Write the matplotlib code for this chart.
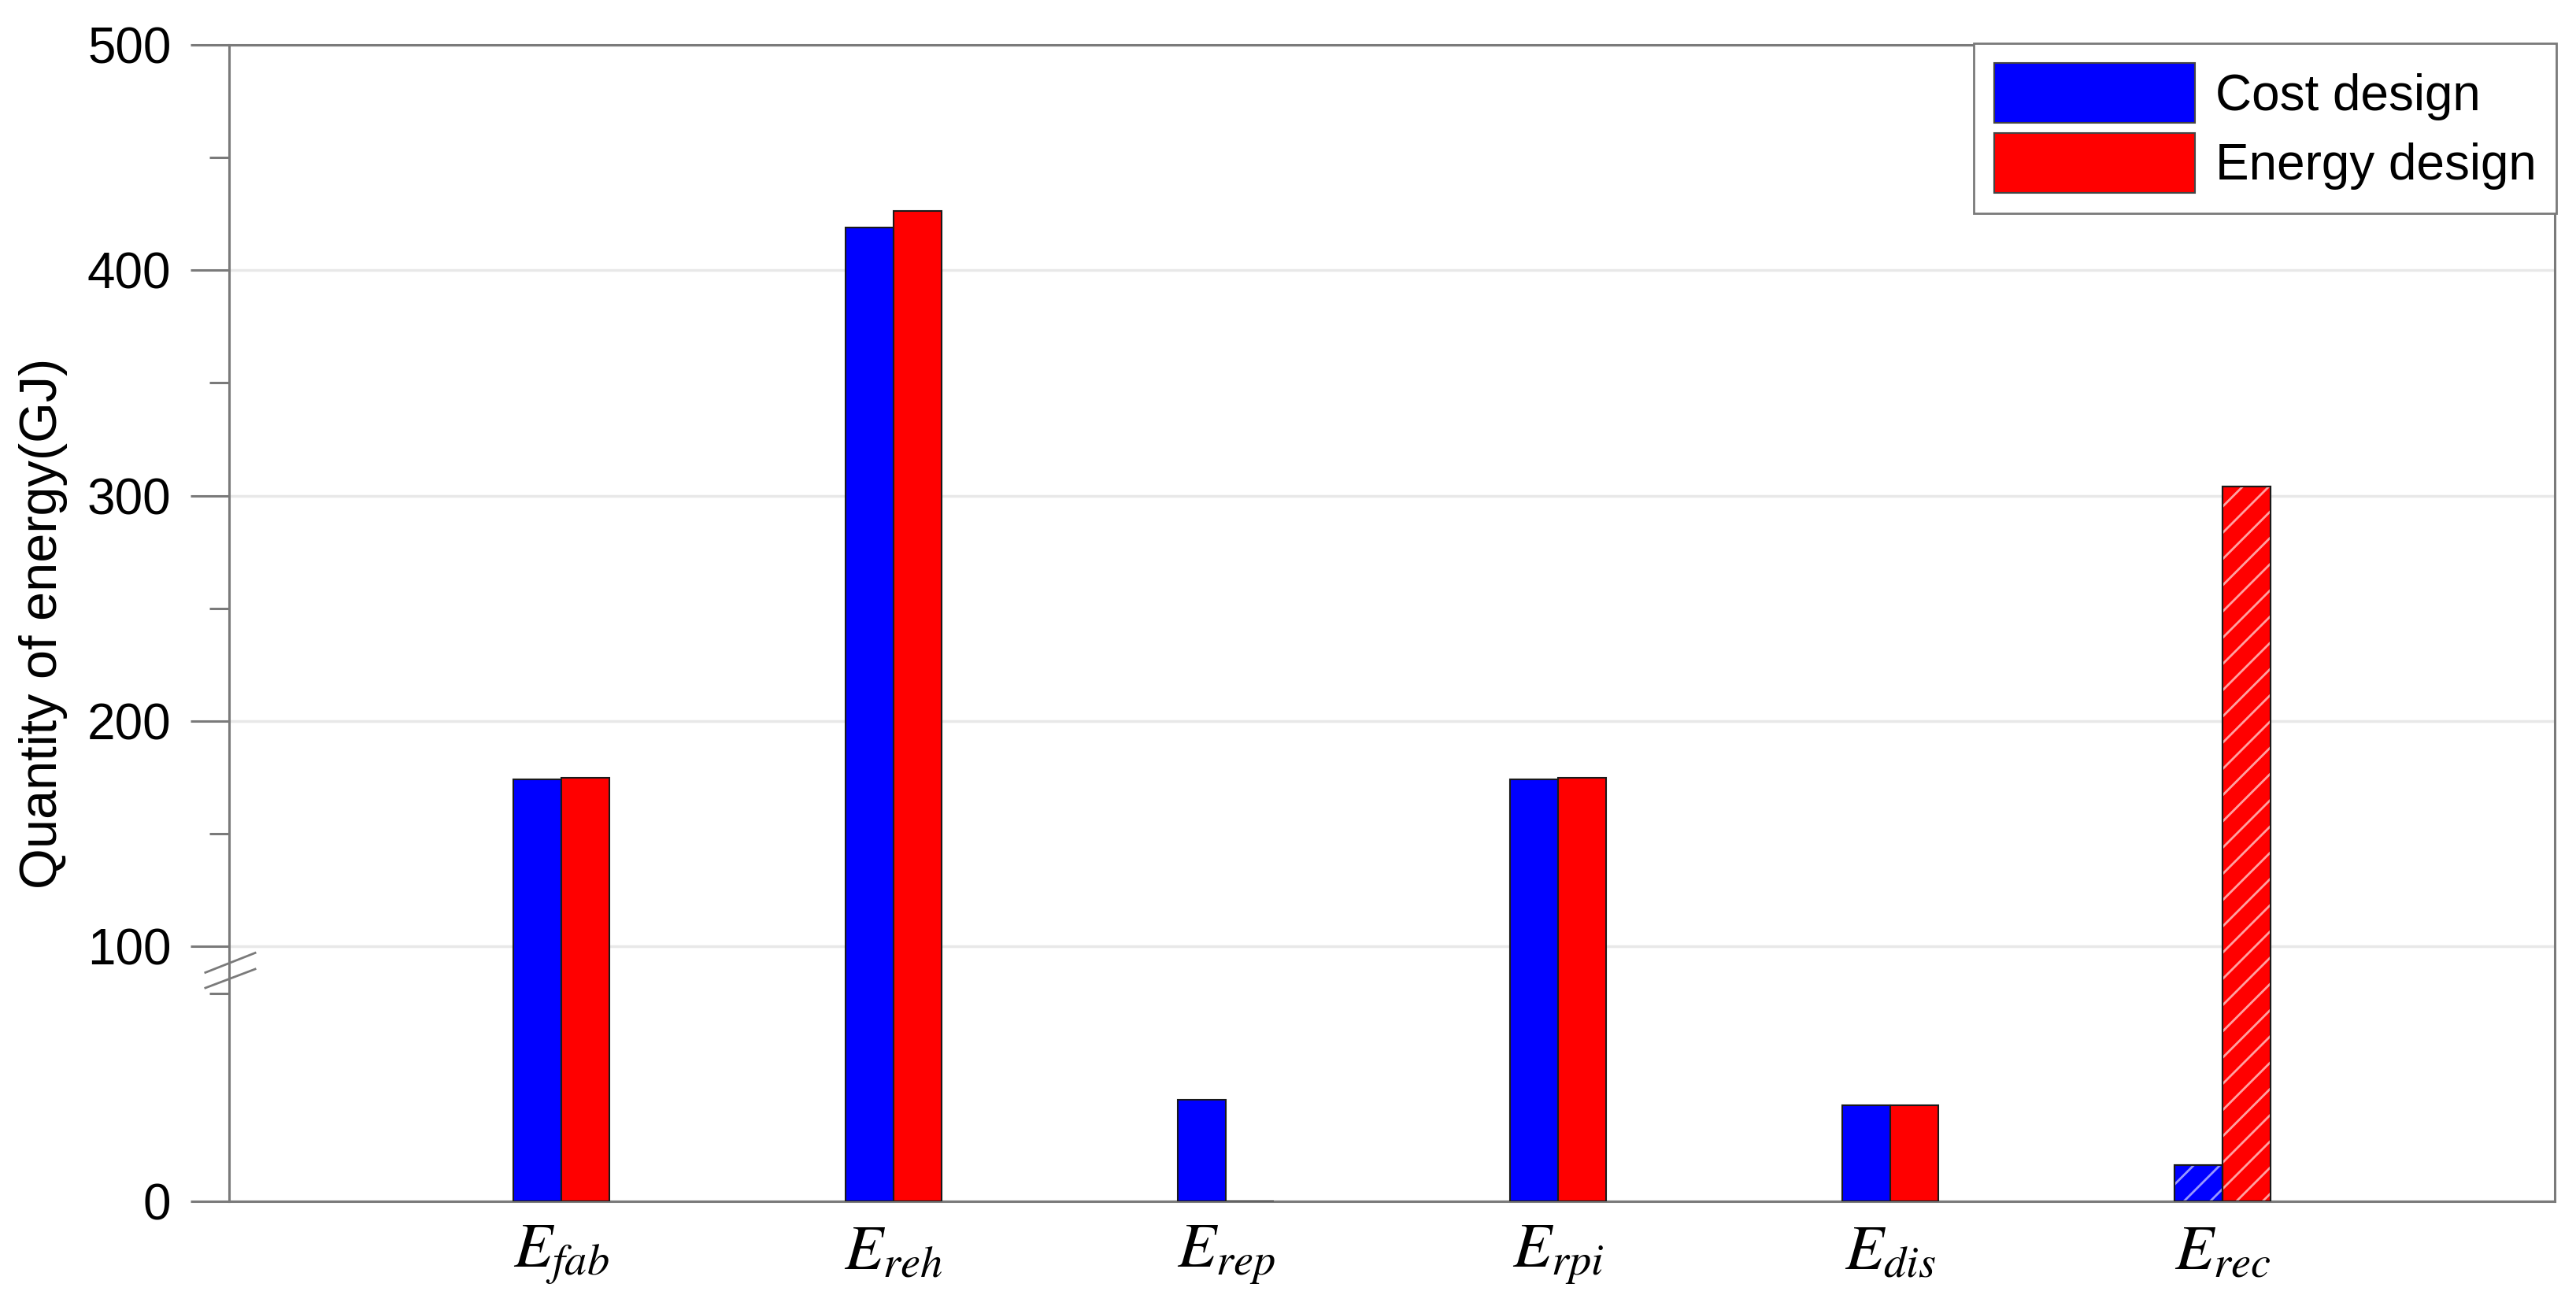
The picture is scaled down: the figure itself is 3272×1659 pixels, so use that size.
import numpy as np
import matplotlib
matplotlib.use("Agg")
import matplotlib.pyplot as plt
from matplotlib.lines import Line2D

plt.rcParams["font.family"] = ["Liberation Sans", "DejaVu Sans"]
plt.rcParams["mathtext.fontset"] = "stix"
plt.rcParams["hatch.linewidth"] = 2.0

# data
categories = [r"$E_{fab}$", r"$E_{reh}$", r"$E_{rep}$", r"$E_{rpi}$", r"$E_{dis}$", r"$E_{rec}$"]
cost_design = [174.1, 418.8, 24.5, 174.1, 23.2, 8.7]
energy_design = [174.8, 426.2, 0.0, 174.8, 23.2, 303.9]
hatched = [False, False, False, False, False, True]
ytick_vals = [0, 100, 200, 300, 400, 500]
yminor_vals = [50, 150, 250, 350, 450]

# broken axis: 0-50 in the lower part, 100-500 in the upper part, 50-100 squeezed
brk_data = [0, 50, 100, 500]
brk_pos = [0, 264, 324, 1469]


def fwd(v):
    return np.interp(v, brk_data, brk_pos)


def inv(v):
    return np.interp(v, brk_pos, brk_data)


fig = plt.figure(figsize=(32.73, 16.59), dpi=100)
ax = fig.add_axes([291 / 3273, 1 - 1526 / 1659, 2954 / 3273, 1469 / 1659])
ax.set_yscale("function", functions=(fwd, inv))

x = np.arange(1, len(categories) + 1)
w = 0.145
blue = "#0000ff"
red = "#ff0000"
edge = "#1a1a1a"

ax.bar(x - w / 2, cost_design, w, color=blue, edgecolor=edge, linewidth=1.5, zorder=3, label="Cost design")
ax.bar(x + w / 2, energy_design, w, color=red, edgecolor=edge, linewidth=1.5, zorder=3, label="Energy design")

# hatched overlay for recovery bars
for i, h in enumerate(hatched):
    if h:
        ax.bar(x[i] - w / 2, cost_design[i], w, color="none", edgecolor=(0.75, 0.75, 1, 0.8),
               hatch="/", linewidth=0, zorder=4)
        ax.bar(x[i] + w / 2, energy_design[i], w, color="none", edgecolor=(1, 0.75, 0.75, 0.85),
               hatch="/", linewidth=0, zorder=4)
        ax.bar(x[i] - w / 2, cost_design[i], w, color="none", edgecolor=edge, linewidth=1.5, zorder=5)
        ax.bar(x[i] + w / 2, energy_design[i], w, color="none", edgecolor=edge, linewidth=1.5, zorder=5)

ax.set_xlim(0, 7)
ax.set_ylim(0, 500)
ax.set_yticks(ytick_vals)
ax.set_yticklabels([str(v) for v in ytick_vals])
ax.set_yticks(yminor_vals, minor=True)
ax.set_xticks(x)
ax.set_xticklabels(categories)

spine_c = "#7a7a7a"
for s in ax.spines.values():
    s.set_color(spine_c)
    s.set_linewidth(2.2)

ax.tick_params(axis="y", which="major", direction="out", length=35, width=2.2, color=spine_c,
               labelsize=46, pad=18)
ax.tick_params(axis="y", which="minor", direction="out", length=18, width=2.2, color=spine_c)
ax.tick_params(axis="x", length=0, labelsize=58, pad=20)

ax.yaxis.grid(True, which="major", color="#e8e8e8", linewidth=2.5, zorder=0)
ax.set_axisbelow(True)

ax.set_ylabel("Quantity of energy(GJ)", fontsize=48, labelpad=18)

# break marks on the left spine
for y0, y1 in [(0.1978, 0.2148), (0.1845, 0.2008)]:
    ax.add_line(Line2D([-0.0102, 0.0112], [y0, y1], transform=ax.transAxes, color=spine_c,
                       linewidth=2.0, clip_on=False, zorder=6))

leg = ax.legend(loc="upper right", bbox_to_anchor=(1.0007, 1.0014), borderaxespad=0, fontsize=46,
                handlelength=4.0, handleheight=1.45, handletextpad=0.4, borderpad=0.4,
                labelspacing=0.2, fancybox=False, framealpha=1)
leg.get_frame().set_edgecolor(spine_c)
leg.get_frame().set_linewidth(2.0)
for p in leg.get_patches():
    p.set_edgecolor("#444444")

fig.savefig("out.png", dpi=100)
